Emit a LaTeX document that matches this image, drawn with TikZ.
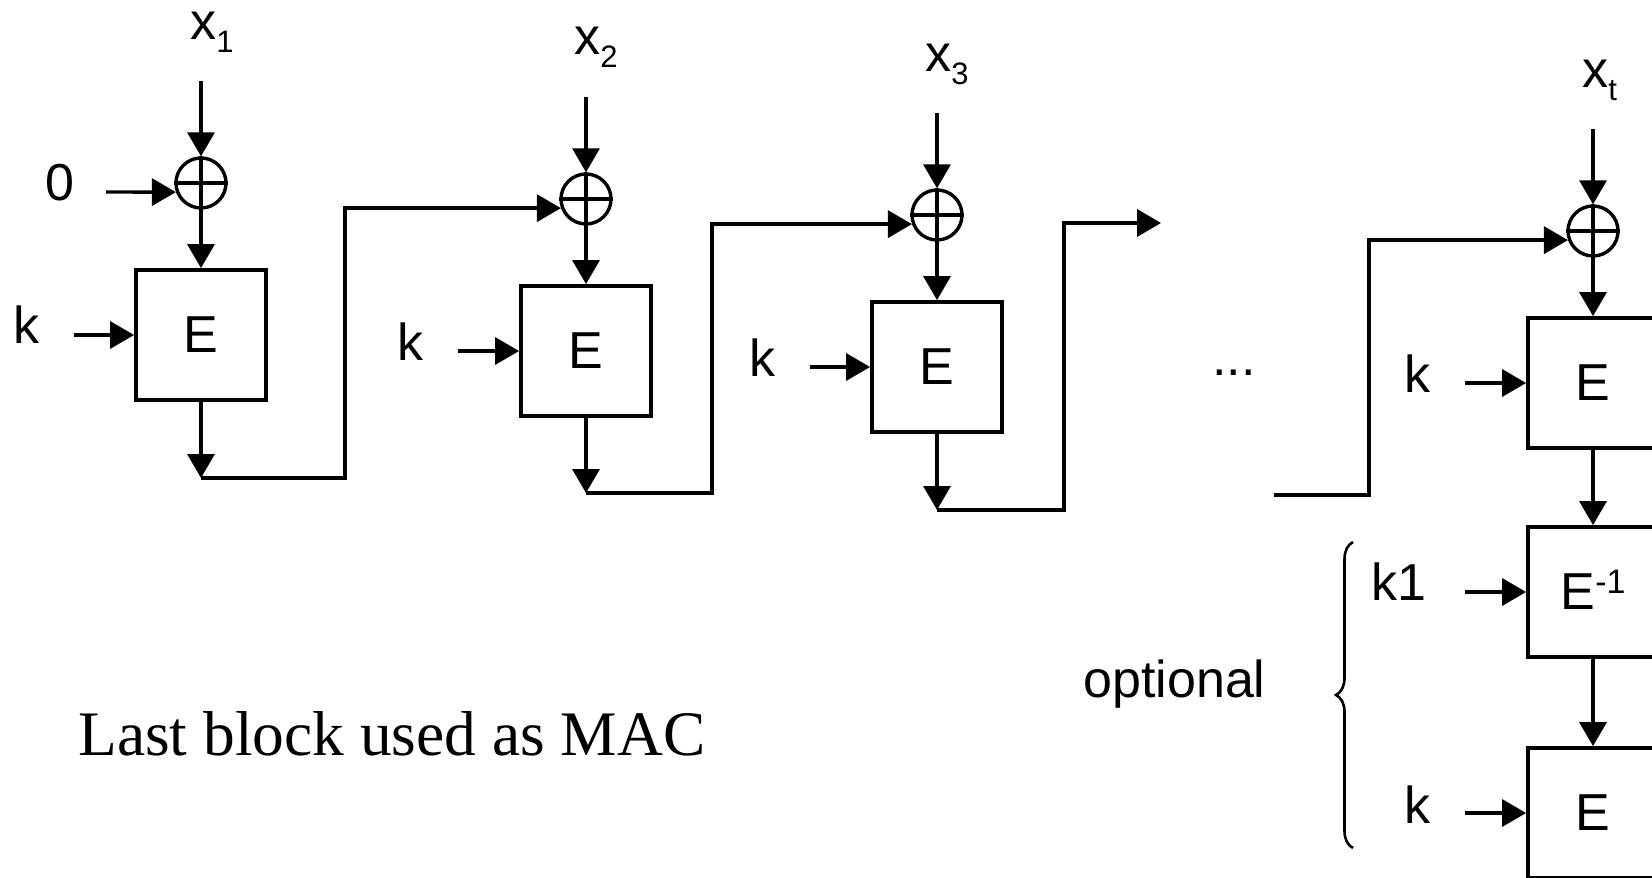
\documentclass[tikz,border=0pt]{standalone}
\usepackage{fontspec}
\setmainfont{Liberation Serif}
\setsansfont{Liberation Sans}
\usetikzlibrary{arrows.meta,decorations.pathreplacing}

\newcommand{\lowidx}[1]{\raisebox{-6.5pt}{\fontsize{15.5}{16}\selectfont #1}}
\newcommand{\highidx}[1]{\raisebox{8pt}[0pt][0pt]{\fontsize{17}{18}\selectfont #1}}

\begin{document}
\begin{tikzpicture}[x=0.5pt, y=-0.5pt,
    wire/.style={line width=1.7pt},
    arr/.style={wire, -{Triangle[length=12pt, width=13.5pt]}},
    enc/.style={draw, line width=1.9pt, minimum width=65pt, minimum height=65pt, inner sep=0pt,
        font=\sffamily\fontsize{26}{30}\selectfont},
    xor/.style={circle, draw, line width=1.7pt, minimum size=25pt, inner sep=0pt},
    lbl/.style={anchor=base west, inner sep=0pt, font=\sffamily\fontsize{26}{30}\selectfont},
    brace/.style={line width=1.3pt, decorate, decoration={brace, amplitude=8.5pt}}
]
    \useasboundingbox (0,0) rectangle (1652,877);
    \clip (0,0) rectangle (1652,877);

    % first block
    \node[lbl] (lx1) at (190,40) {x\lowidx{1}};
    \node[lbl] (lzero) at (45,200) {0};
    \node[lbl] (lk1) at (13,343) {k};
    \node[xor] (xor1) at (201,183) {};
    \node[enc] (enc1) at (201,335) {E};
    \coordinate (in1) at (201,81);
    \coordinate (iv) at (106,192);
    \coordinate (key1) at (74,335);
    \coordinate (out1) at (201,478);
    \coordinate (bend1) at (345,478);

    % second block
    \node[lbl] (lx2) at (574,55) {x\lowidx{2}};
    \node[lbl] (lk2) at (397,360) {k};
    \node[xor] (xor2) at (586,199) {};
    \node[enc] (enc2) at (586,351) {E};
    \coordinate (in2) at (586,97);
    \coordinate (key2) at (458,351);
    \coordinate (out2) at (586,493);
    \coordinate (bend2) at (712,493);

    % third block
    \node[lbl] (lx3) at (925,72) {x\lowidx{3}};
    \node[lbl] (lk3) at (749,376) {k};
    \node[xor] (xor3) at (937,215) {};
    \node[enc] (enc3) at (937,367) {E};
    \coordinate (in3) at (937,113);
    \coordinate (key3) at (810,367);
    \coordinate (out3) at (937,510);
    \coordinate (bend3) at (1064,510);
    \coordinate (next3) at (1161,223);

    \node[lbl] (dots) at (1212,375) {...};

    % last block
    \coordinate (prev) at (1274,495);
    \coordinate (bendt) at (1369,495);
    \node[lbl] (lxt) at (1582,88) {x\lowidx{t}};
    \node[lbl] (lkt) at (1404,392) {k};
    \node[xor] (xort) at (1593,231) {};
    \node[enc] (enct) at (1593,383) {E};
    \coordinate (int) at (1593,129);
    \coordinate (keyt) at (1465,383);

    % optional part
    \node[enc] (dec) at (1593,592) {E\highidx{-1}};
    \node[enc] (encl) at (1593,813) {E};
    \node[lbl] (lkd) at (1371,600) {k1};
    \node[lbl] (lkl) at (1404,823) {k};
    \coordinate (keyd) at (1465,592);
    \coordinate (keyl) at (1465,813);
    \node[lbl] (lopt) at (1083,697) {optional};
    \draw[brace] (1353,848) -- (1353,542);

    \node[anchor=base west, inner sep=0pt, font=\fontsize{31.7}{36}\selectfont] (mac) at (78,755)
        {Last block used as MAC};

    % xor crosses
    \draw[wire] (xor1.north) -- (xor1.south) (xor1.west) -- (xor1.east);
    \draw[wire] (xor2.north) -- (xor2.south) (xor2.west) -- (xor2.east);
    \draw[wire] (xor3.north) -- (xor3.south) (xor3.west) -- (xor3.east);
    \draw[wire] (xort.north) -- (xort.south) (xort.west) -- (xort.east);

    % arrows
    \draw[arr] (in1) -- (xor1);
    \draw[arr] (iv) -- (xor1.200);
    \draw[arr] (xor1) -- (enc1);
    \draw[arr] (key1) -- (enc1);
    \draw[arr] (enc1) -- (out1);
    \draw[arr] (out1) -- (bend1) |- (xor2.200);

    \draw[arr] (in2) -- (xor2);
    \draw[arr] (xor2) -- (enc2);
    \draw[arr] (key2) -- (enc2);
    \draw[arr] (enc2) -- (out2);
    \draw[arr] (out2) -- (bend2) |- (xor3.200);

    \draw[arr] (in3) -- (xor3);
    \draw[arr] (xor3) -- (enc3);
    \draw[arr] (key3) -- (enc3);
    \draw[arr] (enc3) -- (out3);
    \draw[arr] (out3) -- (bend3) |- (next3);

    \draw[arr] (prev) -- (bendt) |- (xort.200);
    \draw[arr] (int) -- (xort);
    \draw[arr] (xort) -- (enct);
    \draw[arr] (keyt) -- (enct);
    \draw[arr] (enct) -- (dec);
    \draw[arr] (keyd) -- (dec);
    \draw[arr] (dec) -- (encl);
    \draw[arr] (keyl) -- (encl);
\end{tikzpicture}
\end{document}
